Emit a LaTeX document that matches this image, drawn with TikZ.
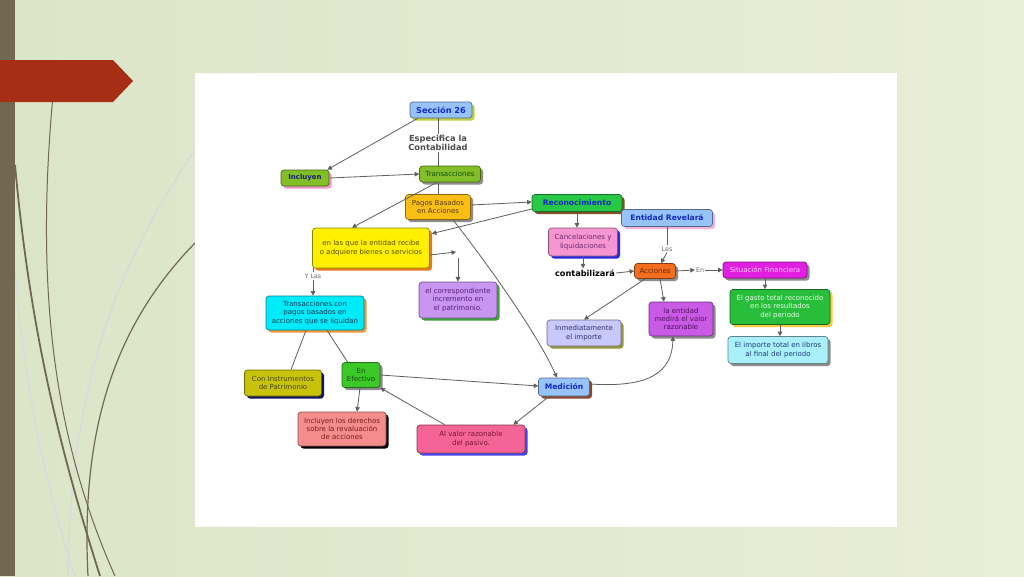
\documentclass[tikz,border=0pt]{standalone}
\usepackage{fontspec}
\setmainfont{DejaVu Sans}
\usetikzlibrary{arrows.meta,shadows,calc}
\definecolor{bgl}{RGB}{220,229,200}
\definecolor{bgr}{RGB}{233,238,214}
\definecolor{barc}{RGB}{113,104,82}
\definecolor{redc}{RGB}{166,46,20}
\definecolor{lineg}{RGB}{95,95,95}
\definecolor{lblue}{RGB}{150,195,250}
\definecolor{tblue}{RGB}{20,40,200}
\definecolor{shYG}{RGB}{190,210,60}
\definecolor{fGreenA}{RGB}{130,190,40}
\definecolor{tNavy}{RGB}{30,30,120}
\definecolor{shPink}{RGB}{240,150,200}
\definecolor{tDGreen}{RGB}{20,80,20}
\definecolor{fOrange}{RGB}{250,190,20}
\definecolor{tBrown}{RGB}{90,60,20}
\definecolor{fGreenB}{RGB}{40,200,70}
\definecolor{shBrown}{RGB}{130,80,40}
\definecolor{shLPink}{RGB}{240,180,220}
\definecolor{fPink}{RGB}{245,150,210}
\definecolor{tPurple}{RGB}{110,40,110}
\definecolor{shBlue}{RGB}{40,40,220}
\definecolor{fAcc}{RGB}{240,110,30}
\definecolor{tAcc}{RGB}{110,40,10}
\definecolor{fMag}{RGB}{225,30,225}
\definecolor{tMag}{RGB}{250,200,250}
\definecolor{fGas}{RGB}{40,190,60}
\definecolor{tGas}{RGB}{230,250,230}
\definecolor{shYel}{RGB}{250,200,60}
\definecolor{fImp}{RGB}{170,240,250}
\definecolor{tImp}{RGB}{30,60,130}
\definecolor{fYel}{RGB}{255,240,0}
\definecolor{tYel}{RGB}{90,80,0}
\definecolor{shOr}{RGB}{230,120,30}
\definecolor{fCor}{RGB}{200,150,240}
\definecolor{tCor}{RGB}{90,30,120}
\definecolor{shGr}{RGB}{60,160,60}
\definecolor{fCyan}{RGB}{0,235,250}
\definecolor{tCyan}{RGB}{20,60,90}
\definecolor{shOr2}{RGB}{240,150,60}
\definecolor{fOlive}{RGB}{200,195,10}
\definecolor{tOlive}{RGB}{70,70,10}
\definecolor{shNavy}{RGB}{20,20,90}
\definecolor{fEen}{RGB}{60,200,40}
\definecolor{tEen}{RGB}{20,80,10}
\definecolor{fSal}{RGB}{245,140,140}
\definecolor{tSal}{RGB}{120,30,30}
\definecolor{fAlv}{RGB}{245,100,150}
\definecolor{tAlv}{RGB}{120,20,50}
\definecolor{shBlue2}{RGB}{70,70,230}
\definecolor{shBrown2}{RGB}{140,70,40}
\definecolor{fInm}{RGB}{200,200,250}
\definecolor{tInm}{RGB}{50,50,120}
\definecolor{shOl}{RGB}{150,150,60}
\definecolor{fVrz}{RGB}{200,90,230}
\definecolor{tVrz}{RGB}{80,20,90}
\definecolor{shGray}{RGB}{140,140,140}
\tikzset{
  cbox/.style n args={3}{draw=#1!55!black, fill=#1, text=#2, rounded corners=3pt, line width=0.7pt,
     drop shadow={shadow xshift=2.5pt, shadow yshift=-2.5pt, fill=#3, opacity=1},
     align=center, inner sep=1pt, font=\fontsize{7}{8.3}\selectfont},
  lnk/.style={font=\fontsize{6.3}{7}\selectfont, text=black!60, inner sep=1pt},
  conn/.style={draw=lineg, line width=0.8pt},
  arr/.style={conn, -{Triangle[length=4.5pt,width=4.5pt]}},
  deco/.style={draw=barc, line width=1.3pt},
  decol/.style={draw=black!15, line width=1.2pt}
}
\begin{document}
\begin{tikzpicture}[x=1pt,y=-1pt]
\useasboundingbox (0,0) rectangle (1024,576);
\shade[left color=bgl, right color=bgr] (0,0) rectangle (1024,576);
% decorative curves
\draw[decol] (195,150) .. controls (120,260) and (70,380) .. (68,576);
\draw[decol] (15,270) .. controls (25,400) and (50,500) .. (75,576);
\draw[deco, line width=1pt] (53,95) .. controls (38,260) and (45,420) .. (115,576);
\draw[deco, line width=1.8pt] (15,165) .. controls (30,330) and (60,450) .. (100,576);
\draw[deco, line width=1.2pt] (195,243) .. controls (120,320) and (80,420) .. (88,576);
\fill[barc] (0,0) rectangle (15,576);
\fill[redc] (0,60) -- (113,60) -- (133,81) -- (113,102) -- (0,102) -- cycle;
\fill[white] (195,73) rectangle (897,527);

% nodes
\node[cbox={lblue}{tblue}{shYG}, minimum width=62, minimum height=16, font=\fontsize{8.2}{9}\selectfont\bfseries] (sec) at (441,110) {Sección 26};
\node[text=black!70, align=center, font=\fontsize{8.3}{9.5}\selectfont\bfseries, inner sep=1pt] (esp) at (438,143) {Especifica la\\Contabilidad};
\node[cbox={fGreenA}{tNavy}{shPink}, minimum width=48, minimum height=16, font=\fontsize{7}{8}\selectfont\bfseries] (inc) at (305,178) {Incluyen};
\node[cbox={fGreenA}{tDGreen}{shGray}, minimum width=61, minimum height=16] (tra) at (450,174) {Transacciones};
\node[cbox={fOrange}{tBrown}{shGray}, minimum width=65, minimum height=25] (pag) at (438,207) {Pagos Basados\\en Acciones};
\node[cbox={fGreenB}{tblue}{shBrown}, minimum width=90, minimum height=17, font=\fontsize{7.6}{8}\selectfont\bfseries] (rec) at (577,203) {Reconocimiento};
\node[cbox={lblue}{tblue}{shLPink}, minimum width=91, minimum height=17, font=\fontsize{7.6}{8}\selectfont\bfseries] (erv) at (667,218) {Entidad Revelará};
\node[cbox={fPink}{tPurple}{shBlue}, minimum width=69, minimum height=28] (can) at (583,242) {Cancelaciones y\\liquidaciones};
\node[font=\fontsize{8.2}{9}\selectfont\bfseries, inner sep=1pt] (cont) at (585,273) {contabilizará};
\node[lnk] (les) at (667,249) {Les};
\node[cbox={fAcc}{tAcc}{shGray}, minimum width=41, minimum height=15] (acc) at (655,271) {Acciones};
\node[lnk] (en) at (700,270) {En};
\node[cbox={fMag}{tMag}{shGray}, minimum width=84, minimum height=16] (sit) at (765,270) {Situación Financiera};
\node[cbox={fGas}{tGas}{shYel}, minimum width=100, minimum height=35] (gas) at (780,307) {El gasto total reconocido\\en los resultados\\del periodo};
\node[cbox={fImp}{tImp}{shGray}, minimum width=100, minimum height=27] (imp) at (778,350) {El importe total en libros\\al final del periodo};
\node[cbox={fYel}{tYel}{shOr}, minimum width=117, minimum height=40] (yel) at (371,248) {en las que la entidad recibe\\o adquiere bienes o servicios};
\coordinate (gap) at (458,255);
\node[cbox={fCor}{tCor}{shGr}, minimum width=78, minimum height=36] (cor) at (458,300) {el correspondiente\\incremento en\\el patrimonio.};
\node[lnk] (ylas) at (313,276) {Y Las};
\node[cbox={fCyan}{tCyan}{shOr2}, minimum width=98, minimum height=34] (tcp) at (315,313) {Transacciones con\\pagos basados en\\acciones que se liquidan};
\node[cbox={fOlive}{tOlive}{shNavy}, minimum width=77, minimum height=26] (cin) at (283,383) {Con Instrumentos\\de Patrimonio};
\node[cbox={fEen}{tEen}{shGray}, minimum width=38, minimum height=25] (een) at (361,375) {En\\Efectivo};
\node[cbox={fSal}{tSal}{black}, minimum width=88, minimum height=34] (der) at (342,429) {Incluyen los derechos\\sobre la revaluación\\de acciones};
\node[cbox={fAlv}{tAlv}{shBlue2}, minimum width=108, minimum height=28] (alv) at (471,439) {Al valor razonable\\del pasivo.};
\node[cbox={lblue}{tblue}{shBrown2}, minimum width=51, minimum height=18, font=\fontsize{7.6}{8}\selectfont\bfseries] (med) at (564,387) {Medición};
\node[cbox={fInm}{tInm}{shOl}, minimum width=74, minimum height=26] (inm) at (584,333) {Inmediatamente\\el importe};
\node[cbox={fVrz}{tVrz}{shGray}, minimum width=64, minimum height=34] (vrz) at (681,319) {la entidad\\medirá el valor\\razonable};

% connectors
\draw[arr] ($(sec.south west)+(8,0)$) -- ($(inc.north east)+(-2,0)$);
\draw[conn] (sec.south -| esp) -- (esp.north);
\draw[conn] (esp.south) -- (tra.north -| esp);
\draw[arr] (inc.east) -- (tra.west);
\draw[conn] (tra.south -| pag) -- (pag.north);
\draw[arr] ($(tra.south)+(-13,0)$) -- ($(yel.north)+(-19,0)$);
\draw[arr] ($(pag.east)+(0,-2)$) -- ($(rec.west)+(0,-1)$);
\draw[arr] ($(rec.west)+(0,6)$) -- ($(yel.north east)+(2,6)$);
\draw[arr] ($(pag.south)+(15,0)$) .. controls (500,280) and (540,340) .. ($(med.north)+(-7,0)$);
\draw[arr] (rec.south) -- (rec.south |- can.north);
\draw[arr] (can.south) -- (can.south |- cont.north);
\draw[arr] (cont.east) -- (acc.west);
\draw[conn] (erv.south) -- (les.north);
\draw[arr] (les.south) -- ($(acc.north)+(6,0)$);
\draw[arr] (acc.east) -- (en.west);
\draw[arr] (en.east) -- (sit.west);
\draw[arr] (sit.south) -- (sit.south |- gas.north);
\draw[arr] (gas.south) -- (gas.south |- imp.north);
\draw[arr] ($(acc.south)+(-10,0)$) -- (inm.north);
\draw[arr] ($(acc.south)+(5,0)$) -- ($(vrz.north)+(-17,0)$);
\draw[arr] (yel.east |- gap) -- ($(gap)+(-2,-3)$);
\draw[arr] ($(gap)+(0,3)$) -- (cor.north);
\draw[conn] (yel.south -| ylas) -- (ylas.north);
\draw[arr] (ylas.south) -- (tcp.north -| ylas);
\draw[conn] ($(tcp.south)+(-9,0)$) -- ($(cin.north)+(8,0)$);
\draw[conn] ($(tcp.south)+(12,0)$) -- ($(een.north west)+(6,0)$);
\draw[arr] ($(een.south)+(-1,0)$) -- ($(der.north)+(15,0)$);
\draw[arr] (een.east) -- ($(med.west)+(0,-1)$);
\draw[arr] ($(alv.north west)+(28,0)$) -- (een.south east);
\draw[arr] ($(med.south west)+(11,0)$) -- ($(alv.north east)+(-12,0)$);
\draw[arr] ($(med.east)+(0,-3)$) .. controls (650,388) and (672,372) .. ($(vrz.south)+(-8,0)$);
\end{tikzpicture}
\end{document}
